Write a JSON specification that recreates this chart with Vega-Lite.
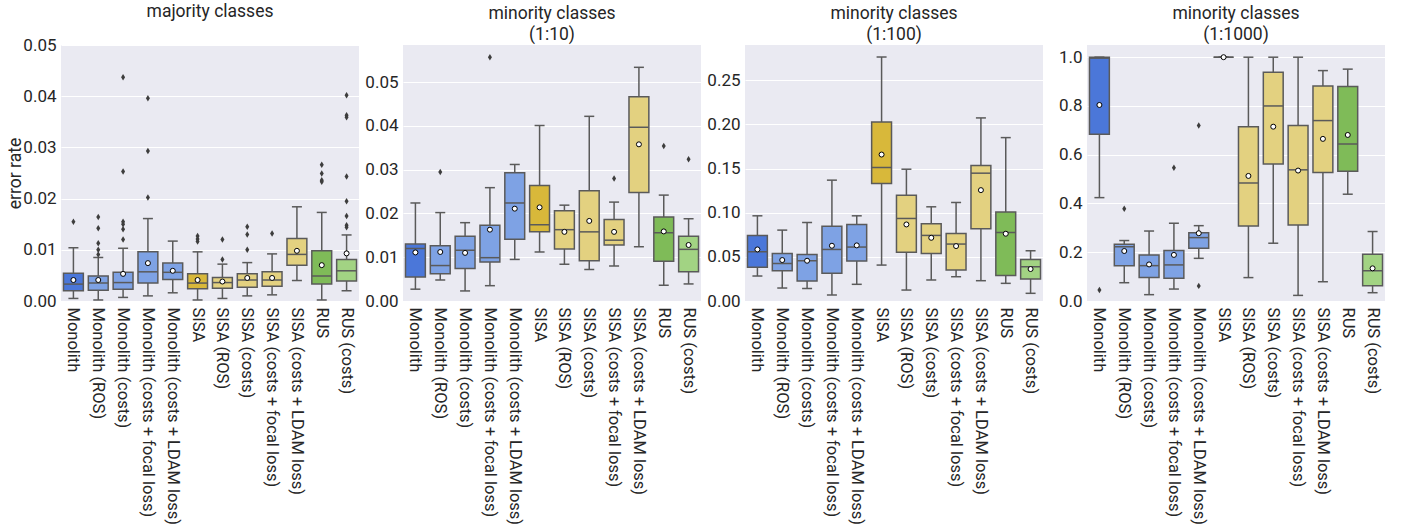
{
  "$schema": "https://vega.github.io/schema/vega-lite/v6.json",
  "padding": {"left": 6, "top": 2, "right": 0, "bottom": 0},
  "background": "white",
  "spacing": 44,
  "bounds": "flush",
  "datasets": {
    "stats": [
      {"panel":"p1","method":"Monolith","lo":0.0005,"q1":0.0020,"med":0.0033,"q3":0.0054,"hi":0.0104,"mean":0.0041},
      {"panel":"p1","method":"Monolith (ROS)","lo":0.0002,"q1":0.0021,"med":0.0035,"q3":0.0049,"hi":0.0085,"mean":0.0041},
      {"panel":"p1","method":"Monolith (costs)","lo":0.0007,"q1":0.0023,"med":0.0036,"q3":0.0056,"hi":0.0103,"mean":0.0053},
      {"panel":"p1","method":"Monolith (costs + focal loss)","lo":0.0010,"q1":0.0035,"med":0.0057,"q3":0.0096,"hi":0.0161,"mean":0.0074},
      {"panel":"p1","method":"Monolith (costs + LDAM loss)","lo":0.0016,"q1":0.0042,"med":0.0056,"q3":0.0074,"hi":0.0117,"mean":0.0059},
      {"panel":"p1","method":"SISA","lo":0.0002,"q1":0.0024,"med":0.0035,"q3":0.0053,"hi":0.0096,"mean":0.0041},
      {"panel":"p1","method":"SISA (ROS)","lo":0.0005,"q1":0.0025,"med":0.0036,"q3":0.0046,"hi":0.0072,"mean":0.0038},
      {"panel":"p1","method":"SISA (costs)","lo":0.0010,"q1":0.0027,"med":0.0041,"q3":0.0053,"hi":0.0075,"mean":0.0045},
      {"panel":"p1","method":"SISA (costs + focal loss)","lo":0.0012,"q1":0.0029,"med":0.0041,"q3":0.0057,"hi":0.0092,"mean":0.0045},
      {"panel":"p1","method":"SISA (costs + LDAM loss)","lo":0.0040,"q1":0.0070,"med":0.0091,"q3":0.0122,"hi":0.0184,"mean":0.0098},
      {"panel":"p1","method":"RUS","lo":0.0002,"q1":0.0033,"med":0.0049,"q3":0.0098,"hi":0.0173,"mean":0.0070},
      {"panel":"p1","method":"RUS (costs)","lo":0.0020,"q1":0.0039,"med":0.0059,"q3":0.0081,"hi":0.0129,"mean":0.0093},
      {"panel":"p2","method":"Monolith","lo":0.0027,"q1":0.0055,"med":0.0120,"q3":0.0130,"hi":0.0224,"mean":0.0111},
      {"panel":"p2","method":"Monolith (ROS)","lo":0.0048,"q1":0.0062,"med":0.0081,"q3":0.0126,"hi":0.0202,"mean":0.0112},
      {"panel":"p2","method":"Monolith (costs)","lo":0.0023,"q1":0.0074,"med":0.0116,"q3":0.0148,"hi":0.0179,"mean":0.0110},
      {"panel":"p2","method":"Monolith (costs + focal loss)","lo":0.0035,"q1":0.0089,"med":0.0099,"q3":0.0173,"hi":0.0259,"mean":0.0163},
      {"panel":"p2","method":"Monolith (costs + LDAM loss)","lo":0.0095,"q1":0.0141,"med":0.0224,"q3":0.0293,"hi":0.0312,"mean":0.0211},
      {"panel":"p2","method":"SISA","lo":0.0112,"q1":0.0158,"med":0.0174,"q3":0.0264,"hi":0.0401,"mean":0.0214},
      {"panel":"p2","method":"SISA (ROS)","lo":0.0084,"q1":0.0119,"med":0.0163,"q3":0.0206,"hi":0.0219,"mean":0.0158},
      {"panel":"p2","method":"SISA (costs)","lo":0.0072,"q1":0.0092,"med":0.0158,"q3":0.0252,"hi":0.0422,"mean":0.0183},
      {"panel":"p2","method":"SISA (costs + focal loss)","lo":0.0080,"q1":0.0128,"med":0.0139,"q3":0.0186,"hi":0.0226,"mean":0.0158},
      {"panel":"p2","method":"SISA (costs + LDAM loss)","lo":0.0124,"q1":0.0248,"med":0.0397,"q3":0.0467,"hi":0.0534,"mean":0.0358},
      {"panel":"p2","method":"RUS","lo":0.0036,"q1":0.0091,"med":0.0156,"q3":0.0192,"hi":0.0242,"mean":0.0159},
      {"panel":"p2","method":"RUS (costs)","lo":0.0039,"q1":0.0067,"med":0.0118,"q3":0.0148,"hi":0.0188,"mean":0.0128},
      {"panel":"p3","method":"Monolith","lo":0.0283,"q1":0.0381,"med":0.0558,"q3":0.0743,"hi":0.0965,"mean":0.0584},
      {"panel":"p3","method":"Monolith (ROS)","lo":0.0147,"q1":0.0343,"med":0.0426,"q3":0.0539,"hi":0.0803,"mean":0.0464},
      {"panel":"p3","method":"Monolith (costs)","lo":0.0143,"q1":0.0226,"med":0.0456,"q3":0.0528,"hi":0.0890,"mean":0.0456},
      {"panel":"p3","method":"Monolith (costs + focal loss)","lo":0.0068,"q1":0.0313,"med":0.0584,"q3":0.0848,"hi":0.1369,"mean":0.0626},
      {"panel":"p3","method":"Monolith (costs + LDAM loss)","lo":0.0189,"q1":0.0452,"med":0.0611,"q3":0.0867,"hi":0.0965,"mean":0.0630},
      {"panel":"p3","method":"SISA","lo":0.0407,"q1":0.1331,"med":0.1512,"q3":0.2029,"hi":0.2764,"mean":0.1659},
      {"panel":"p3","method":"SISA (ROS)","lo":0.0124,"q1":0.0551,"med":0.0935,"q3":0.1199,"hi":0.1493,"mean":0.0867},
      {"panel":"p3","method":"SISA (costs)","lo":0.0238,"q1":0.0539,"med":0.0743,"q3":0.0875,"hi":0.1067,"mean":0.0716},
      {"panel":"p3","method":"SISA (costs + focal loss)","lo":0.0275,"q1":0.0351,"med":0.0645,"q3":0.0765,"hi":0.1116,"mean":0.0622},
      {"panel":"p3","method":"SISA (costs + LDAM loss)","lo":0.0230,"q1":0.0818,"med":0.1448,"q3":0.1535,"hi":0.2074,"mean":0.1256},
      {"panel":"p3","method":"RUS","lo":0.0200,"q1":0.0290,"med":0.0777,"q3":0.1007,"hi":0.1851,"mean":0.0762},
      {"panel":"p3","method":"RUS (costs)","lo":0.0087,"q1":0.0249,"med":0.0388,"q3":0.0471,"hi":0.0569,"mean":0.0362},
      {"panel":"p4","method":"Monolith","lo":0.424,"q1":0.684,"med":0.996,"q3":1.0,"hi":1.0,"mean":0.804},
      {"panel":"p4","method":"Monolith (ROS)","lo":0.075,"q1":0.145,"med":0.223,"q3":0.233,"hi":0.248,"mean":0.205},
      {"panel":"p4","method":"Monolith (costs)","lo":0.026,"q1":0.096,"med":0.145,"q3":0.189,"hi":0.287,"mean":0.150},
      {"panel":"p4","method":"Monolith (costs + focal loss)","lo":0.049,"q1":0.093,"med":0.148,"q3":0.207,"hi":0.319,"mean":0.189},
      {"panel":"p4","method":"Monolith (costs + LDAM loss)","lo":0.175,"q1":0.216,"med":0.260,"q3":0.280,"hi":0.309,"mean":0.278},
      {"panel":"p4","method":"SISA","lo":1.0,"q1":1.0,"med":1.0,"q3":1.0,"hi":1.0,"mean":1.0},
      {"panel":"p4","method":"SISA (ROS)","lo":0.096,"q1":0.308,"med":0.484,"q3":0.715,"hi":1.0,"mean":0.513},
      {"panel":"p4","method":"SISA (costs)","lo":0.237,"q1":0.562,"med":0.800,"q3":0.938,"hi":1.0,"mean":0.715},
      {"panel":"p4","method":"SISA (costs + focal loss)","lo":0.023,"q1":0.312,"med":0.538,"q3":0.720,"hi":1.0,"mean":0.535},
      {"panel":"p4","method":"SISA (costs + LDAM loss)","lo":0.079,"q1":0.527,"med":0.740,"q3":0.882,"hi":0.945,"mean":0.665},
      {"panel":"p4","method":"RUS","lo":0.438,"q1":0.532,"med":0.644,"q3":0.880,"hi":0.951,"mean":0.681},
      {"panel":"p4","method":"RUS (costs)","lo":0.034,"q1":0.063,"med":0.124,"q3":0.192,"hi":0.285,"mean":0.134}
    ],
    "outliers": [
      {"panel":"p1","method":"Monolith","value":0.0155},
      {"panel":"p1","method":"Monolith (ROS)","value":0.0164},
      {"panel":"p1","method":"Monolith (ROS)","value":0.0142},
      {"panel":"p1","method":"Monolith (ROS)","value":0.0113},
      {"panel":"p1","method":"Monolith (ROS)","value":0.0100},
      {"panel":"p1","method":"Monolith (ROS)","value":0.0091},
      {"panel":"p1","method":"Monolith (costs)","value":0.0437},
      {"panel":"p1","method":"Monolith (costs)","value":0.0253},
      {"panel":"p1","method":"Monolith (costs)","value":0.0155},
      {"panel":"p1","method":"Monolith (costs)","value":0.0150},
      {"panel":"p1","method":"Monolith (costs)","value":0.0140},
      {"panel":"p1","method":"Monolith (costs)","value":0.0120},
      {"panel":"p1","method":"Monolith (costs + focal loss)","value":0.0396},
      {"panel":"p1","method":"Monolith (costs + focal loss)","value":0.0293},
      {"panel":"p1","method":"Monolith (costs + focal loss)","value":0.0202},
      {"panel":"p1","method":"SISA","value":0.0127},
      {"panel":"p1","method":"SISA","value":0.0121},
      {"panel":"p1","method":"SISA","value":0.0116},
      {"panel":"p1","method":"SISA (ROS)","value":0.0120},
      {"panel":"p1","method":"SISA (ROS)","value":0.0081},
      {"panel":"p1","method":"SISA (costs)","value":0.0145},
      {"panel":"p1","method":"SISA (costs)","value":0.0130},
      {"panel":"p1","method":"SISA (costs)","value":0.0100},
      {"panel":"p1","method":"SISA (costs + focal loss)","value":0.0132},
      {"panel":"p1","method":"RUS","value":0.0266},
      {"panel":"p1","method":"RUS","value":0.0249},
      {"panel":"p1","method":"RUS","value":0.0236},
      {"panel":"p1","method":"RUS","value":0.0233},
      {"panel":"p1","method":"RUS (costs)","value":0.0402},
      {"panel":"p1","method":"RUS (costs)","value":0.0363},
      {"panel":"p1","method":"RUS (costs)","value":0.0359},
      {"panel":"p1","method":"RUS (costs)","value":0.0243},
      {"panel":"p1","method":"RUS (costs)","value":0.0195},
      {"panel":"p1","method":"RUS (costs)","value":0.0166},
      {"panel":"p1","method":"RUS (costs)","value":0.0148},
      {"panel":"p1","method":"RUS (costs)","value":0.0144},
      {"panel":"p2","method":"Monolith (ROS)","value":0.0295},
      {"panel":"p2","method":"Monolith (costs + focal loss)","value":0.0557},
      {"panel":"p2","method":"SISA (costs + focal loss)","value":0.0280},
      {"panel":"p2","method":"RUS","value":0.0354},
      {"panel":"p2","method":"RUS (costs)","value":0.0324},
      {"panel":"p4","method":"Monolith","value":0.045},
      {"panel":"p4","method":"Monolith (ROS)","value":0.378},
      {"panel":"p4","method":"Monolith (costs + focal loss)","value":0.547},
      {"panel":"p4","method":"Monolith (costs + LDAM loss)","value":0.720},
      {"panel":"p4","method":"Monolith (costs + LDAM loss)","value":0.062}
    ]
  },
  "hconcat": [
    {
      "width": 298, "height": 256,
      "title": {"text": "majority classes", "offset": 16},
      "layer": [
        {"data": {"name": "stats"}, "transform": [{"filter": "datum.panel === 'p1'"}],
         "mark": {"type": "rule", "color": "#5a5a5a", "strokeWidth": 1.5},
         "encoding": {
           "x": {"field": "method", "type": "nominal", "scale": {"type": "band", "domain": ["Monolith","Monolith (ROS)","Monolith (costs)","Monolith (costs + focal loss)","Monolith (costs + LDAM loss)","SISA","SISA (ROS)","SISA (costs)","SISA (costs + focal loss)","SISA (costs + LDAM loss)","RUS","RUS (costs)"], "paddingInner": 0, "paddingOuter": 0}, "axis": {"title": null}},
           "y": {"field": "lo", "type": "quantitative", "scale": {"domain": [0, 0.05], "nice": false, "zero": false}, "axis": {"values": [0, 0.01, 0.02, 0.03, 0.04, 0.05], "format": ".2f", "title": "error rate"}},
           "y2": {"field": "hi"}}},
        {"data": {"name": "stats"}, "transform": [{"filter": "datum.panel === 'p1'"}, {"fold": ["lo", "hi"], "as": ["k", "cap"]}],
         "mark": {"type": "tick", "color": "#5a5a5a", "size": 10, "thickness": 1.5, "opacity": 1},
         "encoding": {
           "x": {"field": "method", "type": "nominal", "scale": {"type": "band", "domain": ["Monolith","Monolith (ROS)","Monolith (costs)","Monolith (costs + focal loss)","Monolith (costs + LDAM loss)","SISA","SISA (ROS)","SISA (costs)","SISA (costs + focal loss)","SISA (costs + LDAM loss)","RUS","RUS (costs)"], "paddingInner": 0, "paddingOuter": 0}, "axis": {"title": null}},
           "y": {"field": "cap", "type": "quantitative", "scale": {"domain": [0, 0.05], "nice": false, "zero": false}, "axis": {"values": [0, 0.01, 0.02, 0.03, 0.04, 0.05], "format": ".2f", "title": "error rate"}}}},
        {"data": {"name": "stats"}, "transform": [{"filter": "datum.panel === 'p1'"}],
         "mark": {"type": "bar", "stroke": "#5a5a5a", "strokeWidth": 1.5, "width": {"band": 0.8}, "opacity": 1},
         "encoding": {
           "x": {"field": "method", "type": "nominal", "scale": {"type": "band", "domain": ["Monolith","Monolith (ROS)","Monolith (costs)","Monolith (costs + focal loss)","Monolith (costs + LDAM loss)","SISA","SISA (ROS)","SISA (costs)","SISA (costs + focal loss)","SISA (costs + LDAM loss)","RUS","RUS (costs)"], "paddingInner": 0, "paddingOuter": 0}, "axis": {"title": null}},
           "y": {"field": "q1", "type": "quantitative", "scale": {"domain": [0, 0.05], "nice": false, "zero": false}, "axis": {"values": [0, 0.01, 0.02, 0.03, 0.04, 0.05], "format": ".2f", "title": "error rate"}},
           "y2": {"field": "q3"},
           "color": {"field": "method", "type": "nominal", "legend": null, "scale": {"domain": ["Monolith","Monolith (ROS)","Monolith (costs)","Monolith (costs + focal loss)","Monolith (costs + LDAM loss)","SISA","SISA (ROS)","SISA (costs)","SISA (costs + focal loss)","SISA (costs + LDAM loss)","RUS","RUS (costs)"], "range": ["#4b77d9","#7ea2e4","#7ea2e4","#7ea2e4","#7ea2e4","#d8b83a","#e3d180","#e3d180","#e3d180","#e3d180","#7fbb58","#a2d383"]}}}},
        {"data": {"name": "stats"}, "transform": [{"filter": "datum.panel === 'p1'"}],
         "mark": {"type": "tick", "color": "#5a5a5a", "size": 19.9, "thickness": 1.5, "opacity": 1},
         "encoding": {
           "x": {"field": "method", "type": "nominal", "scale": {"type": "band", "domain": ["Monolith","Monolith (ROS)","Monolith (costs)","Monolith (costs + focal loss)","Monolith (costs + LDAM loss)","SISA","SISA (ROS)","SISA (costs)","SISA (costs + focal loss)","SISA (costs + LDAM loss)","RUS","RUS (costs)"], "paddingInner": 0, "paddingOuter": 0}, "axis": {"title": null}},
           "y": {"field": "med", "type": "quantitative", "scale": {"domain": [0, 0.05], "nice": false, "zero": false}, "axis": {"values": [0, 0.01, 0.02, 0.03, 0.04, 0.05], "format": ".2f", "title": "error rate"}}}},
        {"data": {"name": "stats"}, "transform": [{"filter": "datum.panel === 'p1'"}],
         "mark": {"type": "point", "shape": "circle", "filled": true, "fill": "white", "stroke": "black", "strokeWidth": 1, "size": 25, "opacity": 1},
         "encoding": {
           "x": {"field": "method", "type": "nominal", "scale": {"type": "band", "domain": ["Monolith","Monolith (ROS)","Monolith (costs)","Monolith (costs + focal loss)","Monolith (costs + LDAM loss)","SISA","SISA (ROS)","SISA (costs)","SISA (costs + focal loss)","SISA (costs + LDAM loss)","RUS","RUS (costs)"], "paddingInner": 0, "paddingOuter": 0}, "axis": {"title": null}},
           "y": {"field": "mean", "type": "quantitative", "scale": {"domain": [0, 0.05], "nice": false, "zero": false}, "axis": {"values": [0, 0.01, 0.02, 0.03, 0.04, 0.05], "format": ".2f", "title": "error rate"}}}},
        {"data": {"name": "outliers"}, "transform": [{"filter": "datum.panel === 'p1'"}],
         "mark": {"type": "point", "shape": "M0,-1L0.62,0L0,1L-0.62,0Z", "filled": true, "color": "#3d3d3d", "size": 42, "opacity": 1},
         "encoding": {
           "x": {"field": "method", "type": "nominal", "scale": {"type": "band", "domain": ["Monolith","Monolith (ROS)","Monolith (costs)","Monolith (costs + focal loss)","Monolith (costs + LDAM loss)","SISA","SISA (ROS)","SISA (costs)","SISA (costs + focal loss)","SISA (costs + LDAM loss)","RUS","RUS (costs)"], "paddingInner": 0, "paddingOuter": 0}, "axis": {"title": null}},
           "y": {"field": "value", "type": "quantitative", "scale": {"domain": [0, 0.05], "nice": false, "zero": false}, "axis": {"values": [0, 0.01, 0.02, 0.03, 0.04, 0.05], "format": ".2f", "title": "error rate"}}}}
      ]
    },
    {
      "width": 298, "height": 256,
      "title": {"text": ["minority classes", "(1:10)"]},
      "layer": [
        {"data": {"name": "stats"}, "transform": [{"filter": "datum.panel === 'p2'"}],
         "mark": {"type": "rule", "color": "#5a5a5a", "strokeWidth": 1.5},
         "encoding": {
           "x": {"field": "method", "type": "nominal", "scale": {"type": "band", "domain": ["Monolith","Monolith (ROS)","Monolith (costs)","Monolith (costs + focal loss)","Monolith (costs + LDAM loss)","SISA","SISA (ROS)","SISA (costs)","SISA (costs + focal loss)","SISA (costs + LDAM loss)","RUS","RUS (costs)"], "paddingInner": 0, "paddingOuter": 0}, "axis": {"title": null}},
           "y": {"field": "lo", "type": "quantitative", "scale": {"domain": [0, 0.0585], "nice": false, "zero": false}, "axis": {"values": [0, 0.01, 0.02, 0.03, 0.04, 0.05], "format": ".2f", "title": null}},
           "y2": {"field": "hi"}}},
        {"data": {"name": "stats"}, "transform": [{"filter": "datum.panel === 'p2'"}, {"fold": ["lo", "hi"], "as": ["k", "cap"]}],
         "mark": {"type": "tick", "color": "#5a5a5a", "size": 10, "thickness": 1.5, "opacity": 1},
         "encoding": {
           "x": {"field": "method", "type": "nominal", "scale": {"type": "band", "domain": ["Monolith","Monolith (ROS)","Monolith (costs)","Monolith (costs + focal loss)","Monolith (costs + LDAM loss)","SISA","SISA (ROS)","SISA (costs)","SISA (costs + focal loss)","SISA (costs + LDAM loss)","RUS","RUS (costs)"], "paddingInner": 0, "paddingOuter": 0}, "axis": {"title": null}},
           "y": {"field": "cap", "type": "quantitative", "scale": {"domain": [0, 0.0585], "nice": false, "zero": false}, "axis": {"values": [0, 0.01, 0.02, 0.03, 0.04, 0.05], "format": ".2f", "title": null}}}},
        {"data": {"name": "stats"}, "transform": [{"filter": "datum.panel === 'p2'"}],
         "mark": {"type": "bar", "stroke": "#5a5a5a", "strokeWidth": 1.5, "width": {"band": 0.8}, "opacity": 1},
         "encoding": {
           "x": {"field": "method", "type": "nominal", "scale": {"type": "band", "domain": ["Monolith","Monolith (ROS)","Monolith (costs)","Monolith (costs + focal loss)","Monolith (costs + LDAM loss)","SISA","SISA (ROS)","SISA (costs)","SISA (costs + focal loss)","SISA (costs + LDAM loss)","RUS","RUS (costs)"], "paddingInner": 0, "paddingOuter": 0}, "axis": {"title": null}},
           "y": {"field": "q1", "type": "quantitative", "scale": {"domain": [0, 0.0585], "nice": false, "zero": false}, "axis": {"values": [0, 0.01, 0.02, 0.03, 0.04, 0.05], "format": ".2f", "title": null}},
           "y2": {"field": "q3"},
           "color": {"field": "method", "type": "nominal", "legend": null, "scale": {"domain": ["Monolith","Monolith (ROS)","Monolith (costs)","Monolith (costs + focal loss)","Monolith (costs + LDAM loss)","SISA","SISA (ROS)","SISA (costs)","SISA (costs + focal loss)","SISA (costs + LDAM loss)","RUS","RUS (costs)"], "range": ["#4b77d9","#7ea2e4","#7ea2e4","#7ea2e4","#7ea2e4","#d8b83a","#e3d180","#e3d180","#e3d180","#e3d180","#7fbb58","#a2d383"]}}}},
        {"data": {"name": "stats"}, "transform": [{"filter": "datum.panel === 'p2'"}],
         "mark": {"type": "tick", "color": "#5a5a5a", "size": 19.9, "thickness": 1.5, "opacity": 1},
         "encoding": {
           "x": {"field": "method", "type": "nominal", "scale": {"type": "band", "domain": ["Monolith","Monolith (ROS)","Monolith (costs)","Monolith (costs + focal loss)","Monolith (costs + LDAM loss)","SISA","SISA (ROS)","SISA (costs)","SISA (costs + focal loss)","SISA (costs + LDAM loss)","RUS","RUS (costs)"], "paddingInner": 0, "paddingOuter": 0}, "axis": {"title": null}},
           "y": {"field": "med", "type": "quantitative", "scale": {"domain": [0, 0.0585], "nice": false, "zero": false}, "axis": {"values": [0, 0.01, 0.02, 0.03, 0.04, 0.05], "format": ".2f", "title": null}}}},
        {"data": {"name": "stats"}, "transform": [{"filter": "datum.panel === 'p2'"}],
         "mark": {"type": "point", "shape": "circle", "filled": true, "fill": "white", "stroke": "black", "strokeWidth": 1, "size": 25, "opacity": 1},
         "encoding": {
           "x": {"field": "method", "type": "nominal", "scale": {"type": "band", "domain": ["Monolith","Monolith (ROS)","Monolith (costs)","Monolith (costs + focal loss)","Monolith (costs + LDAM loss)","SISA","SISA (ROS)","SISA (costs)","SISA (costs + focal loss)","SISA (costs + LDAM loss)","RUS","RUS (costs)"], "paddingInner": 0, "paddingOuter": 0}, "axis": {"title": null}},
           "y": {"field": "mean", "type": "quantitative", "scale": {"domain": [0, 0.0585], "nice": false, "zero": false}, "axis": {"values": [0, 0.01, 0.02, 0.03, 0.04, 0.05], "format": ".2f", "title": null}}}},
        {"data": {"name": "outliers"}, "transform": [{"filter": "datum.panel === 'p2'"}],
         "mark": {"type": "point", "shape": "M0,-1L0.62,0L0,1L-0.62,0Z", "filled": true, "color": "#3d3d3d", "size": 42, "opacity": 1},
         "encoding": {
           "x": {"field": "method", "type": "nominal", "scale": {"type": "band", "domain": ["Monolith","Monolith (ROS)","Monolith (costs)","Monolith (costs + focal loss)","Monolith (costs + LDAM loss)","SISA","SISA (ROS)","SISA (costs)","SISA (costs + focal loss)","SISA (costs + LDAM loss)","RUS","RUS (costs)"], "paddingInner": 0, "paddingOuter": 0}, "axis": {"title": null}},
           "y": {"field": "value", "type": "quantitative", "scale": {"domain": [0, 0.0585], "nice": false, "zero": false}, "axis": {"values": [0, 0.01, 0.02, 0.03, 0.04, 0.05], "format": ".2f", "title": null}}}}
      ]
    },
    {
      "width": 298, "height": 256,
      "title": {"text": ["minority classes", "(1:100)"]},
      "layer": [
        {"data": {"name": "stats"}, "transform": [{"filter": "datum.panel === 'p3'"}],
         "mark": {"type": "rule", "color": "#5a5a5a", "strokeWidth": 1.5},
         "encoding": {
           "x": {"field": "method", "type": "nominal", "scale": {"type": "band", "domain": ["Monolith","Monolith (ROS)","Monolith (costs)","Monolith (costs + focal loss)","Monolith (costs + LDAM loss)","SISA","SISA (ROS)","SISA (costs)","SISA (costs + focal loss)","SISA (costs + LDAM loss)","RUS","RUS (costs)"], "paddingInner": 0, "paddingOuter": 0}, "axis": {"title": null}},
           "y": {"field": "lo", "type": "quantitative", "scale": {"domain": [0, 0.29], "nice": false, "zero": false}, "axis": {"values": [0, 0.05, 0.1, 0.15, 0.2, 0.25], "format": ".2f", "title": null}},
           "y2": {"field": "hi"}}},
        {"data": {"name": "stats"}, "transform": [{"filter": "datum.panel === 'p3'"}, {"fold": ["lo", "hi"], "as": ["k", "cap"]}],
         "mark": {"type": "tick", "color": "#5a5a5a", "size": 10, "thickness": 1.5, "opacity": 1},
         "encoding": {
           "x": {"field": "method", "type": "nominal", "scale": {"type": "band", "domain": ["Monolith","Monolith (ROS)","Monolith (costs)","Monolith (costs + focal loss)","Monolith (costs + LDAM loss)","SISA","SISA (ROS)","SISA (costs)","SISA (costs + focal loss)","SISA (costs + LDAM loss)","RUS","RUS (costs)"], "paddingInner": 0, "paddingOuter": 0}, "axis": {"title": null}},
           "y": {"field": "cap", "type": "quantitative", "scale": {"domain": [0, 0.29], "nice": false, "zero": false}, "axis": {"values": [0, 0.05, 0.1, 0.15, 0.2, 0.25], "format": ".2f", "title": null}}}},
        {"data": {"name": "stats"}, "transform": [{"filter": "datum.panel === 'p3'"}],
         "mark": {"type": "bar", "stroke": "#5a5a5a", "strokeWidth": 1.5, "width": {"band": 0.8}, "opacity": 1},
         "encoding": {
           "x": {"field": "method", "type": "nominal", "scale": {"type": "band", "domain": ["Monolith","Monolith (ROS)","Monolith (costs)","Monolith (costs + focal loss)","Monolith (costs + LDAM loss)","SISA","SISA (ROS)","SISA (costs)","SISA (costs + focal loss)","SISA (costs + LDAM loss)","RUS","RUS (costs)"], "paddingInner": 0, "paddingOuter": 0}, "axis": {"title": null}},
           "y": {"field": "q1", "type": "quantitative", "scale": {"domain": [0, 0.29], "nice": false, "zero": false}, "axis": {"values": [0, 0.05, 0.1, 0.15, 0.2, 0.25], "format": ".2f", "title": null}},
           "y2": {"field": "q3"},
           "color": {"field": "method", "type": "nominal", "legend": null, "scale": {"domain": ["Monolith","Monolith (ROS)","Monolith (costs)","Monolith (costs + focal loss)","Monolith (costs + LDAM loss)","SISA","SISA (ROS)","SISA (costs)","SISA (costs + focal loss)","SISA (costs + LDAM loss)","RUS","RUS (costs)"], "range": ["#4b77d9","#7ea2e4","#7ea2e4","#7ea2e4","#7ea2e4","#d8b83a","#e3d180","#e3d180","#e3d180","#e3d180","#7fbb58","#a2d383"]}}}},
        {"data": {"name": "stats"}, "transform": [{"filter": "datum.panel === 'p3'"}],
         "mark": {"type": "tick", "color": "#5a5a5a", "size": 19.9, "thickness": 1.5, "opacity": 1},
         "encoding": {
           "x": {"field": "method", "type": "nominal", "scale": {"type": "band", "domain": ["Monolith","Monolith (ROS)","Monolith (costs)","Monolith (costs + focal loss)","Monolith (costs + LDAM loss)","SISA","SISA (ROS)","SISA (costs)","SISA (costs + focal loss)","SISA (costs + LDAM loss)","RUS","RUS (costs)"], "paddingInner": 0, "paddingOuter": 0}, "axis": {"title": null}},
           "y": {"field": "med", "type": "quantitative", "scale": {"domain": [0, 0.29], "nice": false, "zero": false}, "axis": {"values": [0, 0.05, 0.1, 0.15, 0.2, 0.25], "format": ".2f", "title": null}}}},
        {"data": {"name": "stats"}, "transform": [{"filter": "datum.panel === 'p3'"}],
         "mark": {"type": "point", "shape": "circle", "filled": true, "fill": "white", "stroke": "black", "strokeWidth": 1, "size": 25, "opacity": 1},
         "encoding": {
           "x": {"field": "method", "type": "nominal", "scale": {"type": "band", "domain": ["Monolith","Monolith (ROS)","Monolith (costs)","Monolith (costs + focal loss)","Monolith (costs + LDAM loss)","SISA","SISA (ROS)","SISA (costs)","SISA (costs + focal loss)","SISA (costs + LDAM loss)","RUS","RUS (costs)"], "paddingInner": 0, "paddingOuter": 0}, "axis": {"title": null}},
           "y": {"field": "mean", "type": "quantitative", "scale": {"domain": [0, 0.29], "nice": false, "zero": false}, "axis": {"values": [0, 0.05, 0.1, 0.15, 0.2, 0.25], "format": ".2f", "title": null}}}}
      ]
    },
    {
      "width": 298, "height": 256,
      "title": {"text": ["minority classes", "(1:1000)"]},
      "layer": [
        {"data": {"name": "stats"}, "transform": [{"filter": "datum.panel === 'p4'"}],
         "mark": {"type": "rule", "color": "#5a5a5a", "strokeWidth": 1.5},
         "encoding": {
           "x": {"field": "method", "type": "nominal", "scale": {"type": "band", "domain": ["Monolith","Monolith (ROS)","Monolith (costs)","Monolith (costs + focal loss)","Monolith (costs + LDAM loss)","SISA","SISA (ROS)","SISA (costs)","SISA (costs + focal loss)","SISA (costs + LDAM loss)","RUS","RUS (costs)"], "paddingInner": 0, "paddingOuter": 0}, "axis": {"title": null}},
           "y": {"field": "lo", "type": "quantitative", "scale": {"domain": [0, 1.05], "nice": false, "zero": false}, "axis": {"values": [0, 0.2, 0.4, 0.6, 0.8, 1.0], "format": ".1f", "title": null}},
           "y2": {"field": "hi"}}},
        {"data": {"name": "stats"}, "transform": [{"filter": "datum.panel === 'p4'"}, {"fold": ["lo", "hi"], "as": ["k", "cap"]}],
         "mark": {"type": "tick", "color": "#5a5a5a", "size": 10, "thickness": 1.5, "opacity": 1},
         "encoding": {
           "x": {"field": "method", "type": "nominal", "scale": {"type": "band", "domain": ["Monolith","Monolith (ROS)","Monolith (costs)","Monolith (costs + focal loss)","Monolith (costs + LDAM loss)","SISA","SISA (ROS)","SISA (costs)","SISA (costs + focal loss)","SISA (costs + LDAM loss)","RUS","RUS (costs)"], "paddingInner": 0, "paddingOuter": 0}, "axis": {"title": null}},
           "y": {"field": "cap", "type": "quantitative", "scale": {"domain": [0, 1.05], "nice": false, "zero": false}, "axis": {"values": [0, 0.2, 0.4, 0.6, 0.8, 1.0], "format": ".1f", "title": null}}}},
        {"data": {"name": "stats"}, "transform": [{"filter": "datum.panel === 'p4'"}],
         "mark": {"type": "bar", "stroke": "#5a5a5a", "strokeWidth": 1.5, "width": {"band": 0.8}, "opacity": 1},
         "encoding": {
           "x": {"field": "method", "type": "nominal", "scale": {"type": "band", "domain": ["Monolith","Monolith (ROS)","Monolith (costs)","Monolith (costs + focal loss)","Monolith (costs + LDAM loss)","SISA","SISA (ROS)","SISA (costs)","SISA (costs + focal loss)","SISA (costs + LDAM loss)","RUS","RUS (costs)"], "paddingInner": 0, "paddingOuter": 0}, "axis": {"title": null}},
           "y": {"field": "q1", "type": "quantitative", "scale": {"domain": [0, 1.05], "nice": false, "zero": false}, "axis": {"values": [0, 0.2, 0.4, 0.6, 0.8, 1.0], "format": ".1f", "title": null}},
           "y2": {"field": "q3"},
           "color": {"field": "method", "type": "nominal", "legend": null, "scale": {"domain": ["Monolith","Monolith (ROS)","Monolith (costs)","Monolith (costs + focal loss)","Monolith (costs + LDAM loss)","SISA","SISA (ROS)","SISA (costs)","SISA (costs + focal loss)","SISA (costs + LDAM loss)","RUS","RUS (costs)"], "range": ["#4b77d9","#7ea2e4","#7ea2e4","#7ea2e4","#7ea2e4","#d8b83a","#e3d180","#e3d180","#e3d180","#e3d180","#7fbb58","#a2d383"]}}}},
        {"data": {"name": "stats"}, "transform": [{"filter": "datum.panel === 'p4'"}],
         "mark": {"type": "tick", "color": "#5a5a5a", "size": 19.9, "thickness": 1.5, "opacity": 1},
         "encoding": {
           "x": {"field": "method", "type": "nominal", "scale": {"type": "band", "domain": ["Monolith","Monolith (ROS)","Monolith (costs)","Monolith (costs + focal loss)","Monolith (costs + LDAM loss)","SISA","SISA (ROS)","SISA (costs)","SISA (costs + focal loss)","SISA (costs + LDAM loss)","RUS","RUS (costs)"], "paddingInner": 0, "paddingOuter": 0}, "axis": {"title": null}},
           "y": {"field": "med", "type": "quantitative", "scale": {"domain": [0, 1.05], "nice": false, "zero": false}, "axis": {"values": [0, 0.2, 0.4, 0.6, 0.8, 1.0], "format": ".1f", "title": null}}}},
        {"data": {"name": "stats"}, "transform": [{"filter": "datum.panel === 'p4'"}],
         "mark": {"type": "point", "shape": "circle", "filled": true, "fill": "white", "stroke": "black", "strokeWidth": 1, "size": 25, "opacity": 1},
         "encoding": {
           "x": {"field": "method", "type": "nominal", "scale": {"type": "band", "domain": ["Monolith","Monolith (ROS)","Monolith (costs)","Monolith (costs + focal loss)","Monolith (costs + LDAM loss)","SISA","SISA (ROS)","SISA (costs)","SISA (costs + focal loss)","SISA (costs + LDAM loss)","RUS","RUS (costs)"], "paddingInner": 0, "paddingOuter": 0}, "axis": {"title": null}},
           "y": {"field": "mean", "type": "quantitative", "scale": {"domain": [0, 1.05], "nice": false, "zero": false}, "axis": {"values": [0, 0.2, 0.4, 0.6, 0.8, 1.0], "format": ".1f", "title": null}}}},
        {"data": {"name": "outliers"}, "transform": [{"filter": "datum.panel === 'p4'"}],
         "mark": {"type": "point", "shape": "M0,-1L0.62,0L0,1L-0.62,0Z", "filled": true, "color": "#3d3d3d", "size": 42, "opacity": 1},
         "encoding": {
           "x": {"field": "method", "type": "nominal", "scale": {"type": "band", "domain": ["Monolith","Monolith (ROS)","Monolith (costs)","Monolith (costs + focal loss)","Monolith (costs + LDAM loss)","SISA","SISA (ROS)","SISA (costs)","SISA (costs + focal loss)","SISA (costs + LDAM loss)","RUS","RUS (costs)"], "paddingInner": 0, "paddingOuter": 0}, "axis": {"title": null}},
           "y": {"field": "value", "type": "quantitative", "scale": {"domain": [0, 1.05], "nice": false, "zero": false}, "axis": {"values": [0, 0.2, 0.4, 0.6, 0.8, 1.0], "format": ".1f", "title": null}}}}
      ]
    }
  ],
  "config": {
    "font": "Roboto",
    "view": {"fill": "#EAEAF2", "stroke": null},
    "axis": {"labelFont": "Roboto", "labelFontSize": 17, "labelColor": "#262626", "titleFont": "Roboto", "titleFontSize": 17.5, "titleFontWeight": "normal", "titleColor": "#262626", "domain": false, "ticks": false},
    "axisX": {"grid": false, "labelAngle": 90, "labelPadding": 6, "labelAlign": "left", "labelBaseline": "middle", "labelLimit": 0, "labelFontSize": 16.5},
    "axisY": {"grid": true, "gridColor": "white", "gridWidth": 1.2, "labelPadding": 5, "titlePadding": -2},
    "title": {"font": "Roboto", "fontSize": 17.5, "fontWeight": "normal", "color": "#262626", "lineHeight": 21, "offset": 2}
  }
}
